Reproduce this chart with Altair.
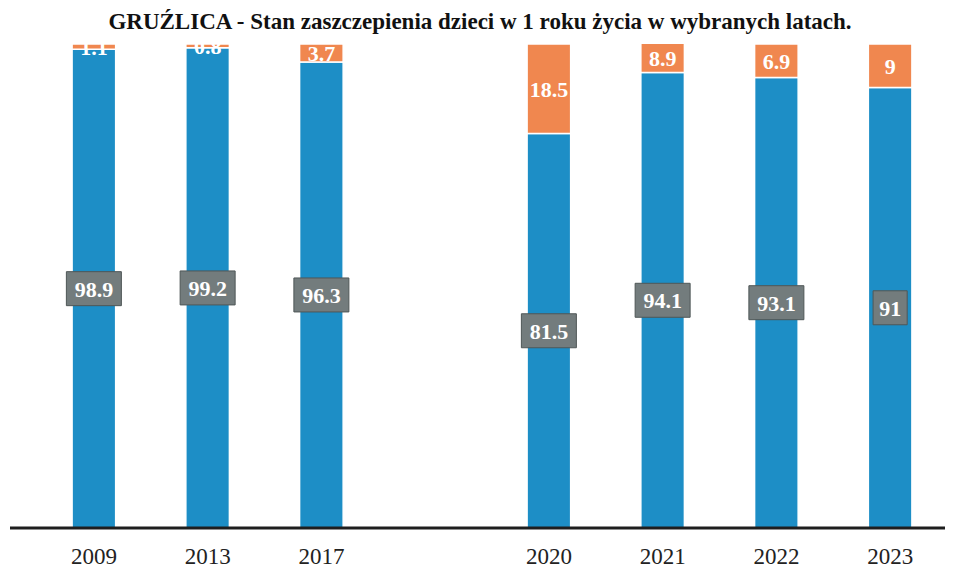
import altair as alt
import pandas as pd

years = ["2009", "2013", "2017", "gap", "2020", "2021", "2022", "2023"]
bar_years = ["2009", "2013", "2017", "2020", "2021", "2022", "2023"]
vaccinated = [98.9, 99.2, 96.3, 81.5, 94.1, 93.1, 91]
unvaccinated = [1.1, 0.8, 3.7, 18.5, 8.9, 6.9, 9]
title_text = "GRUŹLICA - Stan zaszczepienia dzieci w 1 roku życia w wybranych latach."

BLUE = "#1d8ec6"
ORANGE = "#f0874f"
BOX = "#737c7d"

rows = []
for y, a, b in zip(bar_years, vaccinated, unvaccinated):
    rows.append({"year": y, "series": "zaszczepieni", "value": a, "base": 0, "order": 0})
    rows.append({"year": y, "series": "niezaszczepieni", "value": b, "base": a, "order": 1})
df = pd.DataFrame(rows)

W, H = 910, 484

xscale = alt.Scale(domain=years, paddingInner=0.617, paddingOuter=0.3085)
yscale = alt.Scale(domain=[0, 100])

base = alt.Chart(df)

bars = base.mark_bar(stroke="white", strokeWidth=1.5, clip=True).encode(
    x=alt.X("year:N", scale=xscale,
            axis=alt.Axis(title=None, ticks=False, domain=False, labelAngle=0,
                          labelFont="Liberation Serif", labelFontSize=23,
                          labelColor="#222222", labelPadding=17,
                          labelExpr="datum.value == 'gap' ? '' : datum.value")),
    y=alt.Y("value:Q", stack="zero", scale=yscale, axis=None),
    color=alt.Color("series:N",
                    scale=alt.Scale(domain=["zaszczepieni", "niezaszczepieni"],
                                    range=[BLUE, ORANGE]),
                    legend=None),
    order=alt.Order("order:Q"),
)

wide = "M-1,-0.618H1V0.618H-1Z"
narrow = "M-0.62,-0.618H0.62V0.618H-0.62Z"

blue_df = df[df["series"] == "zaszczepieni"]
orange_df = df[df["series"] == "niezaszczepieni"]

boxes = alt.Chart(blue_df).transform_calculate(
    mid="datum.value / 2",
    kind="length(toString(datum.value)) > 2 ? 'wide' : 'narrow'",
).mark_point(filled=True, opacity=1, stroke="#4f5757", strokeWidth=1, size=3025).encode(
    x=alt.X("year:N", scale=xscale),
    y=alt.Y("mid:Q", scale=yscale),
    shape=alt.Shape("kind:N", scale=alt.Scale(domain=["wide", "narrow"], range=[wide, narrow]),
                    legend=None),
    color=alt.value(BOX),
)

blue_labels = alt.Chart(blue_df).transform_calculate(
    mid="datum.value / 2",
    label="toString(datum.value)",
).mark_text(font="Liberation Serif", fontSize=22, fontWeight="bold", color="white",
            baseline="middle", align="center", dy=1).encode(
    x=alt.X("year:N", scale=xscale),
    y=alt.Y("mid:Q", scale=yscale),
    text="label:N",
)

orange_labels = alt.Chart(orange_df).transform_calculate(
    mid="(datum.base + min(100, datum.base + datum.value)) / 2",
    label="toString(datum.value)",
).mark_text(font="Liberation Serif", fontSize=22, fontWeight="bold", color="white",
            baseline="middle", align="center", dy=1).encode(
    x=alt.X("year:N", scale=xscale),
    y=alt.Y("mid:Q", scale=yscale),
    text="label:N",
)

axis_line = alt.Chart(pd.DataFrame({"k": [0]})).mark_rule(color="#1e1e1e", strokeWidth=3).encode(
    x=alt.value(-27), x2=alt.value(908), y=alt.value(H)
)

title = alt.Chart(pd.DataFrame({"t": [title_text]})).mark_text(
    font="Liberation Serif", fontSize=23, fontWeight="bold", color="#111111",
    align="center", baseline="alphabetic"
).encode(x=alt.value(443), y=alt.value(-15), text="t:N")

chart = alt.layer(bars, boxes, blue_labels, orange_labels, axis_line, title).properties(
    width=W, height=H,
    autosize=alt.AutoSizeParams(type="none"),
    padding={"left": 29, "right": 6, "top": 36, "bottom": 46},
    background="white",
).configure_view(stroke=None)

chart.save("out.html", embed_options={"renderer": "svg", "actions": False})
